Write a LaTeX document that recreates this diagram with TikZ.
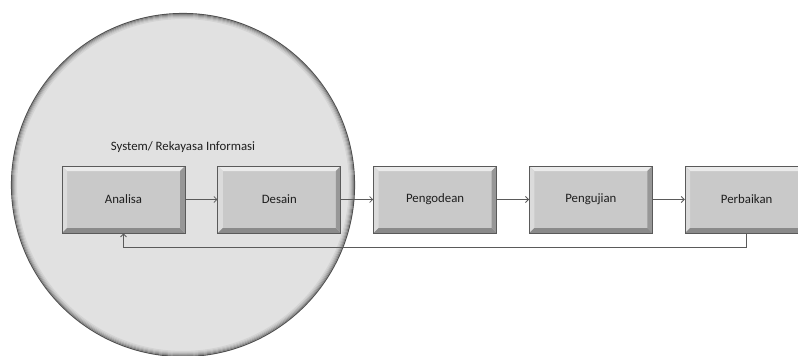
\documentclass[tikz,border=0pt]{standalone}
\usepackage{fontspec}
\setmainfont{Carlito}
\usepackage{tikz}
\usetikzlibrary{positioning,arrows.meta}
\definecolor{lingkar}{HTML}{E1E1E1}
\definecolor{muka}{HTML}{C9C9C9}
\definecolor{terang}{HTML}{EBEBEB}
\definecolor{gelap}{HTML}{8A8A8A}
\definecolor{garis}{HTML}{5A5A5A}
\definecolor{teks}{HTML}{1E1E1E}

\tikzset{
  tahap/.style={draw=garis, line width=0.8pt, fill=muka, minimum width=123pt, minimum height=67pt,
    inner sep=0pt, text=teks, font=\fontsize{12.8}{15}\selectfont,
    path picture={
      \fill[terang] (path picture bounding box.north west) -- (path picture bounding box.north east)
        -- ([xshift=-5pt,yshift=-5pt]path picture bounding box.north east)
        -- ([xshift=5pt,yshift=-5pt]path picture bounding box.north west) -- cycle;
      \fill[terang!85!gray] (path picture bounding box.north west) -- (path picture bounding box.south west)
        -- ([xshift=5pt,yshift=5pt]path picture bounding box.south west)
        -- ([xshift=5pt,yshift=-5pt]path picture bounding box.north west) -- cycle;
      \fill[gelap] (path picture bounding box.south west) -- (path picture bounding box.south east)
        -- ([xshift=-5pt,yshift=5pt]path picture bounding box.south east)
        -- ([xshift=5pt,yshift=5pt]path picture bounding box.south west) -- cycle;
      \fill[gelap!80!muka] (path picture bounding box.north east) -- (path picture bounding box.south east)
        -- ([xshift=-5pt,yshift=5pt]path picture bounding box.south east)
        -- ([xshift=-5pt,yshift=-5pt]path picture bounding box.north east) -- cycle;
    }},
  alur/.style={draw=garis, line width=0.8pt, -{Straight Barb[length=3pt,width=6pt]}}
}

\begin{document}
\begin{tikzpicture}[x=1pt,y=-1pt, node distance=32pt]
  \useasboundingbox (0,0) rectangle (798,356);

  % lingkaran sistem
  \fill[lingkar] (183,185) circle (172pt);
  \foreach \k/\c in {0/65,1/42,2/30,3/20,4/12,5/6}
    \draw[black!\c!lingkar, line width=1.1pt] (183,185) circle (171.5pt-\k pt);

  \node (judul) at (183,147) [text=teks, font=\fontsize{12.8}{15}\selectfont] {System/ Rekayasa Informasi};

  % tahapan
  \node[tahap] (ana) at (123.5,199.5) {Analisa};
  \node[tahap, right=of ana] (des) {Desain};
  \node[tahap, right=of des] (kod) {Pengodean};
  \node[tahap, right=of kod] (uji) {Pengujian};
  \node[tahap, right=of uji] (baik) {Perbaikan};

  \draw[alur] (ana) -- (des);
  \draw[alur] (des) -- (kod);
  \draw[alur] (kod) -- (uji);
  \draw[alur] (uji) -- (baik);
  \draw[alur] (baik.south) -- ++(0,14) -| (ana.south);
\end{tikzpicture}
\end{document}
